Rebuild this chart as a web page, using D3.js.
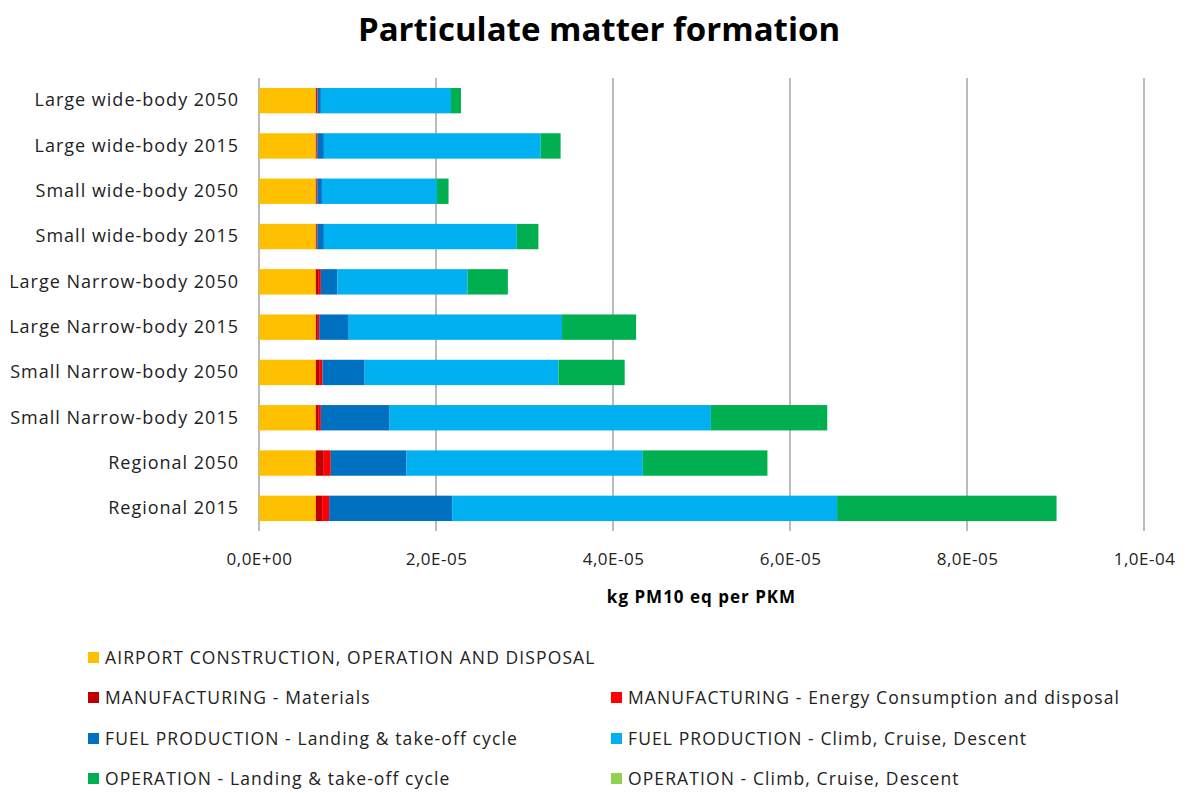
<!DOCTYPE html>
<html>
<head>
<meta charset="utf-8">
<script src="https://cdn.jsdelivr.net/npm/d3@7"></script>
<style>
  html, body { margin: 0; padding: 0; background: #fff; }
  svg { display: block; font-family: "Open Sans", Lato, sans-serif; }
</style>
</head>
<body>
<svg id="chart" width="1187" height="793"></svg>
<script>
/* Particulate matter formation - stacked horizontal bars */
const categories = [
  'Large wide-body 2050', 'Large wide-body 2015',
  'Small wide-body 2050', 'Small wide-body 2015',
  'Large Narrow-body 2050', 'Large Narrow-body 2015',
  'Small Narrow-body 2050', 'Small Narrow-body 2015',
  'Regional 2050', 'Regional 2015'
];

// values in 1e-6 kg PM10 eq per PKM, same order as categories
const airport     = [6.42, 6.42, 6.42, 6.42, 6.42, 6.42, 6.42, 6.42, 6.42, 6.42];
const mfgMaterial = [0.12, 0.10, 0.10, 0.10, 0.34, 0.23, 0.45, 0.34, 0.90, 0.71];
const mfgEnergy   = [0.08, 0.06, 0.06, 0.06, 0.23, 0.15, 0.30, 0.23, 0.79, 0.79];
const fuelLto     = [0.37, 0.75, 0.53, 0.75, 1.88, 3.34, 4.77, 7.77, 8.56, 13.9];
const fuelCcd     = [14.7, 24.5, 13.0, 21.8, 14.7, 24.1, 21.9, 36.3, 26.7, 43.5];
const opLto       = [1.13, 2.25, 1.31, 2.44, 4.55, 8.37, 7.48, 13.15, 14.08, 24.8];
const opCcd       = [0, 0, 0, 0, 0, 0, 0, 0, 0, 0];

const seriesNames = [
  'AIRPORT CONSTRUCTION, OPERATION AND DISPOSAL',
  'MANUFACTURING - Materials',
  'MANUFACTURING - Energy Consumption and disposal',
  'FUEL PRODUCTION - Landing & take-off cycle',
  'FUEL PRODUCTION - Climb, Cruise, Descent',
  'OPERATION - Landing & take-off cycle',
  'OPERATION - Climb, Cruise, Descent'
];
const seriesValues = [airport, mfgMaterial, mfgEnergy, fuelLto, fuelCcd, opLto, opCcd];
const colors = ['#FFC000', '#C00000', '#FF0000', '#0070C0', '#00B0F0', '#00B050', '#92D050'];

const xTicks = [0, 2e-5, 4e-5, 6e-5, 8e-5, 1e-4];

function excelSci(v) {
  if (v === 0) return '0,0E+00';
  const exp = Math.floor(Math.log10(Math.abs(v)) + 1e-9);
  const mant = v / Math.pow(10, exp);
  const sign = exp < 0 ? '-' : '+';
  return mant.toFixed(1).replace('.', ',') + 'E' + sign + String(Math.abs(exp)).padStart(2, '0');
}

const rows = categories.map((c, i) => {
  const r = { cat: c };
  seriesNames.forEach((s, j) => { r[s] = seriesValues[j][i] * 1e-6; });
  return r;
});

const svg = d3.select('#chart');
const margin = { left: 259, right: 43, top: 78, bottom: 262 };
const W = 1187, H = 793;
const FONT = '"Open Sans", Lato, sans-serif';

const x = d3.scaleLinear().domain([0, 1e-4]).range([margin.left, W - margin.right]);
const y = d3.scaleBand().domain(categories).range([margin.top, H - margin.bottom]).paddingInner(0.44).paddingOuter(0.22);

// title
svg.append('text')
  .attr('x', 599).attr('y', 41)
  .attr('text-anchor', 'middle')
  .attr('font-size', 33).attr('font-weight', 'bold')
  .attr('fill', '#000')
  .text('Particulate matter formation');

// gridlines
svg.append('g')
  .selectAll('line')
  .data(xTicks)
  .join('line')
  .attr('x1', d => x(d)).attr('x2', d => x(d))
  .attr('y1', margin.top).attr('y2', H - margin.bottom)
  .attr('stroke', '#979797').attr('stroke-width', 1.3);

// bars
const stack = d3.stack().keys(seriesNames)(rows);
svg.append('g')
  .selectAll('g')
  .data(stack)
  .join('g')
  .attr('fill', (d, i) => colors[i])
  .selectAll('rect')
  .data(d => d)
  .join('rect')
  .attr('x', d => x(d[0]))
  .attr('y', d => y(d.data.cat))
  .attr('width', d => Math.max(0, x(d[1]) - x(d[0])))
  .attr('height', y.bandwidth());

// y axis labels
svg.append('g')
  .attr('transform', `translate(${margin.left},0)`)
  .call(d3.axisLeft(y).tickSize(0).tickPadding(20))
  .call(g => g.select('.domain').remove())
  .selectAll('text')
  .attr('font-size', 18).attr('fill', '#222')
  .attr('letter-spacing', 1)
  .style('font-family', FONT);

// x axis labels
svg.append('g')
  .attr('transform', `translate(0,${H - margin.bottom})`)
  .call(d3.axisBottom(x).tickValues(xTicks).tickFormat(excelSci).tickSize(0).tickPadding(22))
  .call(g => g.select('.domain').remove())
  .selectAll('text')
  .attr('font-size', 17).attr('fill', '#222')
  .attr('letter-spacing', 0.5)
  .style('font-family', FONT);

// axis title
svg.append('text')
  .attr('x', (x.range()[0] + x.range()[1]) / 2).attr('y', 603)
  .attr('text-anchor', 'middle')
  .attr('font-size', 17).attr('font-weight', 'bold')
  .attr('letter-spacing', 1)
  .attr('fill', '#000')
  .text('kg PM10 eq per PKM');

// legend
const legendPos = [
  [88, 658], [88, 698], [611, 698], [88, 739], [611, 739], [88, 779], [611, 779]
];
const legend = svg.append('g')
  .selectAll('g')
  .data(seriesNames)
  .join('g')
  .attr('transform', (d, i) => `translate(${legendPos[i][0]},${legendPos[i][1]})`);
legend.append('rect')
  .attr('x', 0).attr('y', -6).attr('width', 11).attr('height', 11)
  .attr('fill', (d, i) => colors[i]);
legend.append('text')
  .attr('x', 17).attr('y', 6)
  .attr('font-size', 17.5).attr('fill', '#222')
  .attr('letter-spacing', 1.1)
  .text(d => d);
</script>
</body>
</html>
